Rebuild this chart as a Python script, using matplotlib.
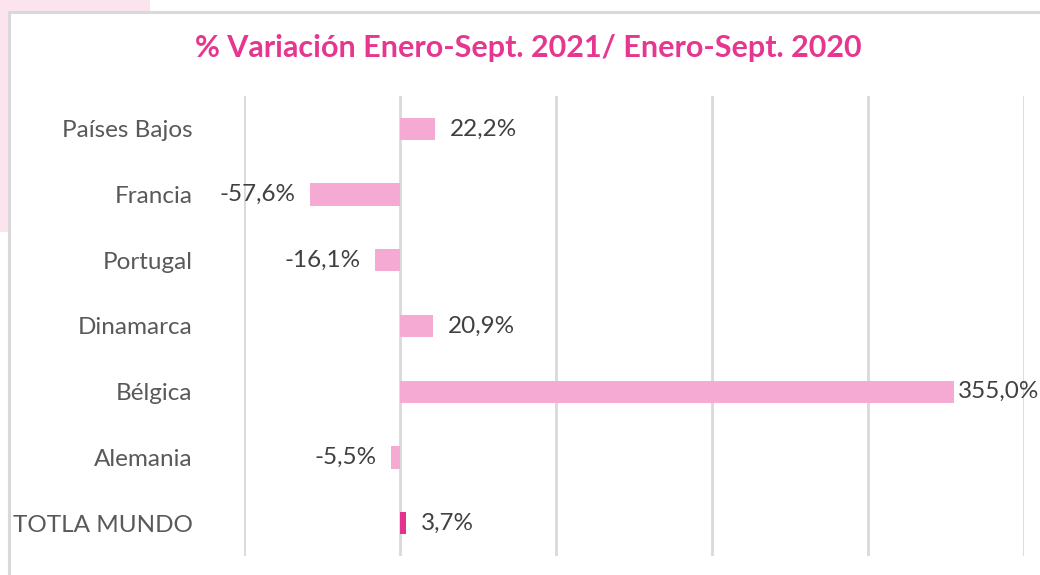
import matplotlib.pyplot as plt
from matplotlib.patches import Rectangle

paises = ['Países Bajos', 'Francia', 'Portugal', 'Dinamarca', 'Bélgica', 'Alemania', 'TOTLA MUNDO']
variacion = [22.2, -57.6, -16.1, 20.9, 355.0, -5.5, 3.7]
colores = ['#f4aad3'] * 6 + ['#e3338d']

plt.rcParams['font.family'] = ['Lato', 'DejaVu Sans']

W, H = 1040, 575
fig = plt.figure(figsize=(W / 100, H / 100), dpi=100)

# fondo rosado de la diapositiva y marco blanco del gráfico
fig.patches.append(Rectangle((0, 1 - 232 / H), 150 / W, 232 / H, transform=fig.transFigure,
                             facecolor='#fbe4ee', edgecolor='none', zorder=0))
fig.patches.append(Rectangle((9 / W, -0.05), 1.1, 1 - 12 / H + 0.05, transform=fig.transFigure,
                             facecolor='white', edgecolor='#d9d9d9', linewidth=2.2, zorder=1))

ax = fig.add_axes([244 / W, 1 - 556 / H, 780 / W, 460 / H])
ax.set_facecolor('none')
ax.set_zorder(2)

y = list(range(len(paises)))
ax.barh(y, variacion, height=0.34, color=colores, zorder=3)

xmax = 400
for yi, v in zip(y, variacion):
    txt = f'{v:.1f}%'.replace('.', ',')
    if v >= 0:
        # la etiqueta de la barra más larga queda pegada al final
        dx = 3 if v > 0.8 * xmax else 11
        ax.annotate(txt, (v, yi), xytext=(dx, 0), textcoords='offset points',
                    ha='left', va='center', fontsize=17.5, color='#404040')
    else:
        ax.annotate(txt, (v, yi), xytext=(-10.5, 0), textcoords='offset points',
                    ha='right', va='center', fontsize=17.5, color='#404040')

ax.set_xlim(-100, xmax)
ax.set_ylim(6.5, -0.5)
ax.set_xticks([-100, 0, 100, 200, 300, 400])
ax.set_xticklabels([])
ax.set_yticks(y)
ax.set_yticklabels(paises, fontsize=17.5, color='#595959')
ax.tick_params(axis='both', length=0)
ax.tick_params(axis='y', pad=37)
ax.grid(axis='x', color='#d9d9d9', linewidth=2)
ax.set_axisbelow(True)
for s in ax.spines.values():
    s.set_visible(False)

fig.text(528 / W, 1 - 48 / H, '% Variación Enero-Sept. 2021/ Enero-Sept. 2020',
         ha='center', va='center', fontsize=22, fontweight='bold', color='#e6368f', zorder=3)

fig.savefig('out.png', dpi=100)
